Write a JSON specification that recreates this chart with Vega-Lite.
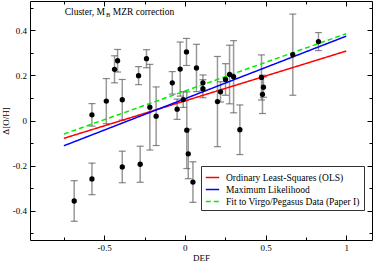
{
  "$schema": "https://vega.github.io/schema/vega-lite/v6.json",
  "width": 342,
  "height": 239,
  "autosize": {"type": "none"},
  "padding": {"left": 30, "top": 1, "right": 2, "bottom": 21},
  "background": "white",
  "config": {
    "view": {"stroke": "black", "strokeWidth": 1},
    "axis": {"grid": false, "domain": false, "tickColor": "black", "tickWidth": 1, "labelFont": "Liberation Serif", "labelFontSize": 9, "labelColor": "black", "titleFont": "Liberation Serif", "titleFontSize": 9, "titleFontWeight": "normal", "titleColor": "black"},
    "legend": {"orient": "none", "legendX": 171, "legendY": 165, "symbolType": "stroke", "symbolStrokeWidth": 1.5, "symbolSize": 180, "labelFont": "Liberation Serif", "labelFontSize": 9.5, "labelColor": "black", "strokeColor": "#333333", "fillColor": "white", "padding": 4, "rowPadding": 0, "labelOffset": 6}
  },
  "datasets": {
    "pts": [
      {"x": -0.686, "y": -0.357, "lo": -0.447, "hi": -0.267},
      {"x": -0.576, "y": 0.025, "lo": -0.025, "hi": 0.075},
      {"x": -0.576, "y": -0.259, "lo": -0.329, "hi": -0.189},
      {"x": -0.487, "y": 0.086, "lo": -0.014, "hi": 0.186},
      {"x": -0.436, "y": 0.227, "lo": 0.167, "hi": 0.287},
      {"x": -0.417, "y": 0.265, "lo": 0.215, "hi": 0.315},
      {"x": -0.388, "y": 0.092, "lo": 0.002, "hi": 0.182},
      {"x": -0.388, "y": -0.206, "lo": -0.276, "hi": -0.136},
      {"x": -0.287, "y": 0.199, "lo": 0.159, "hi": 0.239},
      {"x": -0.277, "y": -0.194, "lo": -0.274, "hi": -0.114},
      {"x": -0.238, "y": 0.274, "lo": 0.234, "hi": 0.314},
      {"x": -0.217, "y": 0.059, "lo": -0.131, "hi": 0.249},
      {"x": -0.178, "y": 0.019, "lo": -0.111, "hi": 0.149},
      {"x": -0.078, "y": 0.167, "lo": 0.117, "hi": 0.217},
      {"x": -0.048, "y": 0.05, "lo": 0.005, "hi": 0.095},
      {"x": -0.029, "y": 0.228, "lo": 0.108, "hi": 0.348},
      {"x": -0.01, "y": 0.093, "lo": 0.058, "hi": 0.128},
      {"x": 0.01, "y": 0.304, "lo": 0.244, "hi": 0.364},
      {"x": 0.012, "y": -0.043, "lo": -0.213, "hi": 0.127},
      {"x": 0.021, "y": -0.148, "lo": -0.258, "hi": -0.038},
      {"x": 0.05, "y": -0.273, "lo": -0.363, "hi": -0.183},
      {"x": 0.072, "y": 0.233, "lo": 0.128, "hi": 0.338},
      {"x": 0.112, "y": 0.167, "lo": 0.132, "hi": 0.202},
      {"x": 0.112, "y": 0.141, "lo": 0.101, "hi": 0.181},
      {"x": 0.202, "y": 0.084, "lo": -0.116, "hi": 0.284},
      {"x": 0.221, "y": 0.127, "lo": 0.082, "hi": 0.172},
      {"x": 0.252, "y": 0.182, "lo": 0.112, "hi": 0.252},
      {"x": 0.277, "y": 0.204, "lo": 0.074, "hi": 0.334},
      {"x": 0.302, "y": 0.194, "lo": 0.034, "hi": 0.354},
      {"x": 0.341, "y": -0.041, "lo": -0.151, "hi": 0.069},
      {"x": 0.475, "y": 0.191, "lo": 0.091, "hi": 0.291},
      {"x": 0.481, "y": 0.116, "lo": 0.031, "hi": 0.201},
      {"x": 0.487, "y": 0.148, "lo": 0.103, "hi": 0.193},
      {"x": 0.669, "y": 0.292, "lo": 0.112, "hi": 0.472},
      {"x": 0.828, "y": 0.35, "lo": 0.31, "hi": 0.39}
    ],
    "fits": [
      {"series": "Ordinary Least-Squares (OLS)", "x": -0.75, "y": -0.079},
      {"series": "Ordinary Least-Squares (OLS)", "x": 1.0, "y": 0.308},
      {"series": "Maximum Likelihood", "x": -0.75, "y": -0.112},
      {"series": "Maximum Likelihood", "x": 1.0, "y": 0.374},
      {"series": "Fit to Virgo/Pegasus Data (Paper I)", "x": -0.75, "y": -0.06},
      {"series": "Fit to Virgo/Pegasus Data (Paper I)", "x": 1.0, "y": 0.385}
    ],
    "label": [
      {"text": "Cluster, M", "x": -0.745, "y": 0.47},
      {"text": "MZR correction", "x": -0.447, "y": 0.47}
    ],
    "sub": [
      {"text": "B", "x": -0.489, "y": 0.46}
    ]
  },
  "resolve": {"axis": {"x": "independent", "y": "independent"}},
  "layer": [
    {
      "data": {"name": "pts"},
      "mark": {"type": "rule", "color": "#999999", "strokeWidth": 1.5},
      "encoding": {
        "x": {"field": "x", "type": "quantitative", "scale": {"domain": [-0.96, 1.16], "nice": false, "zero": false},
              "axis": {"orient": "bottom", "values": [-0.5, 0, 0.5, 1], "tickSize": -5, "labelPadding": 8, "labelExpr": "toString(datum.value)", "title": "DEF", "titlePadding": 1}},
        "y": {"field": "lo", "type": "quantitative", "scale": {"domain": [-0.53, 0.53], "nice": false, "zero": false},
              "axis": {"orient": "left", "values": [-0.4, -0.2, 0, 0.2, 0.4], "tickSize": -5, "labelPadding": 8.5, "labelExpr": "toString(datum.value)", "title": "Δ[O/H]", "titlePadding": 2}},
        "y2": {"field": "hi"}
      }
    },
    {
      "data": {"name": "pts"},
      "mark": {"type": "tick", "orient": "horizontal", "color": "#555555", "size": 7, "thickness": 1.2},
      "encoding": {
        "x": {"field": "x", "type": "quantitative", "axis": {"orient": "bottom", "values": [-0.75, -0.25, 0.25, 0.75], "tickSize": -3, "labels": false, "title": null}},
        "y": {"field": "lo", "type": "quantitative", "axis": {"orient": "left", "values": [-0.5, -0.3, -0.1, 0.1, 0.3, 0.5], "tickSize": -3, "labels": false, "title": null}}
      }
    },
    {
      "data": {"name": "pts"},
      "mark": {"type": "tick", "orient": "horizontal", "color": "#555555", "size": 7, "thickness": 1.2},
      "encoding": {
        "x": {"field": "x", "type": "quantitative", "axis": {"orient": "top", "values": [-0.5, 0, 0.5, 1], "tickSize": -5, "labels": false, "title": null}},
        "y": {"field": "hi", "type": "quantitative", "axis": {"orient": "right", "values": [-0.4, -0.2, 0, 0.2, 0.4], "tickSize": -5, "labels": false, "title": null}}
      }
    },
    {
      "data": {"name": "fits"},
      "mark": {"type": "line", "strokeWidth": 1.5},
      "encoding": {
        "x": {"field": "x", "type": "quantitative", "axis": {"orient": "top", "values": [-0.75, -0.25, 0.25, 0.75], "tickSize": -3, "labels": false, "title": null}},
        "y": {"field": "y", "type": "quantitative", "axis": {"orient": "right", "values": [-0.5, -0.3, -0.1, 0.1, 0.3, 0.5], "tickSize": -3, "labels": false, "title": null}},
        "stroke": {"field": "series", "type": "nominal",
                   "scale": {"domain": ["Ordinary Least-Squares (OLS)", "Maximum Likelihood", "Fit to Virgo/Pegasus Data (Paper I)"], "range": ["#ff0000", "#0000ff", "#00ee00"]},
                   "legend": {"title": null}},
        "strokeDash": {"field": "series", "type": "nominal",
                   "scale": {"domain": ["Ordinary Least-Squares (OLS)", "Maximum Likelihood", "Fit to Virgo/Pegasus Data (Paper I)"], "range": [[1, 0], [1, 0], [5, 3]]},
                   "legend": {"title": null}}
      }
    },
    {
      "data": {"name": "pts"},
      "mark": {"type": "circle", "color": "black", "opacity": 1, "size": 28},
      "encoding": {
        "x": {"field": "x", "type": "quantitative", "axis": null},
        "y": {"field": "y", "type": "quantitative", "axis": null}
      }
    },
    {
      "data": {"name": "label"},
      "mark": {"type": "text", "align": "left", "baseline": "alphabetic", "font": "Liberation Serif", "fontSize": 9.5, "color": "black"},
      "encoding": {
        "x": {"field": "x", "type": "quantitative", "axis": null},
        "y": {"field": "y", "type": "quantitative", "axis": null},
        "text": {"field": "text"}
      }
    },
    {
      "data": {"name": "sub"},
      "mark": {"type": "text", "align": "left", "baseline": "alphabetic", "font": "Liberation Serif", "fontSize": 6.5, "color": "black"},
      "encoding": {
        "x": {"field": "x", "type": "quantitative", "axis": null},
        "y": {"field": "y", "type": "quantitative", "axis": null},
        "text": {"field": "text"}
      }
    }
  ]
}
